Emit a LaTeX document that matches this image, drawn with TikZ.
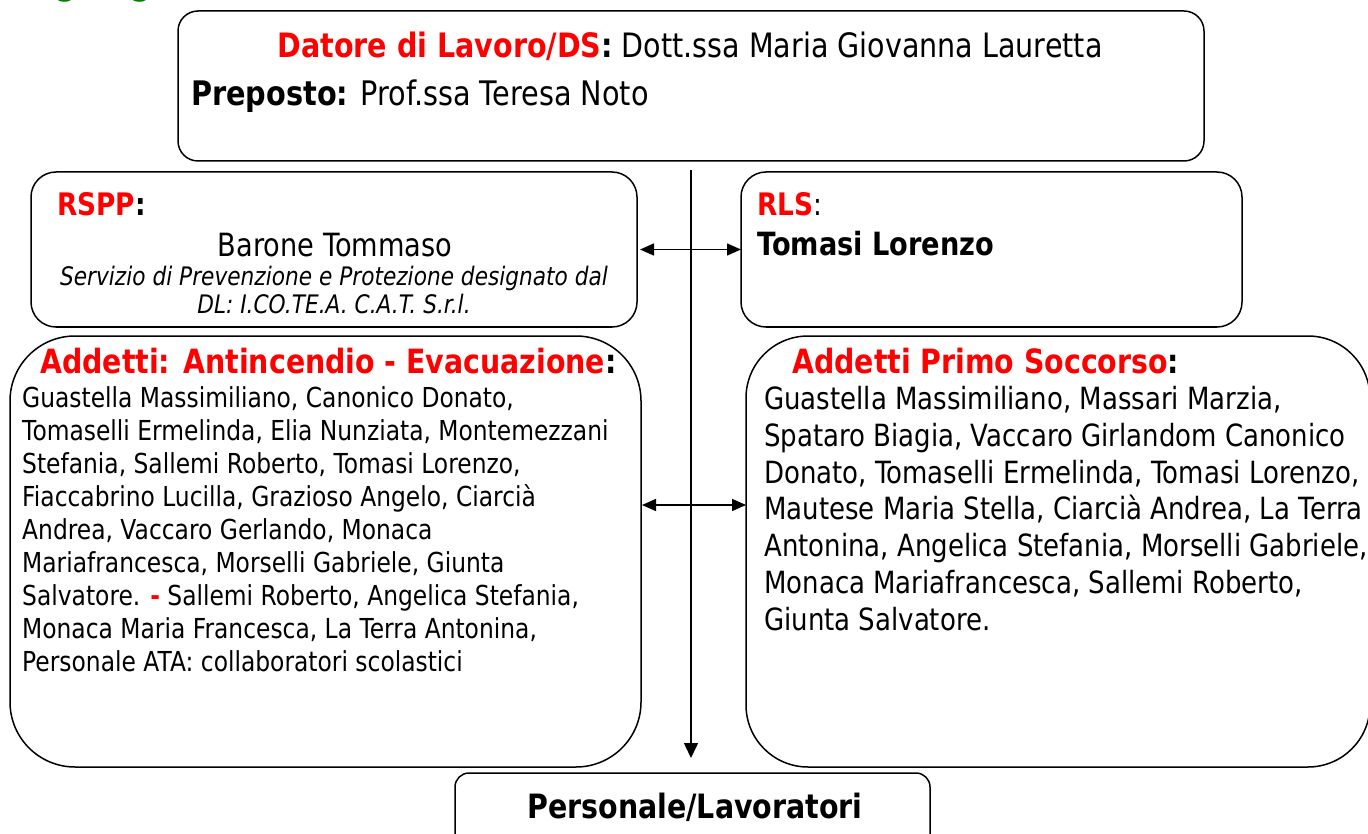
\documentclass[tikz,border=0pt]{standalone}
\usepackage{fontspec}
\setmainfont{DejaVu Sans}[FakeStretch=0.85]
\usetikzlibrary{arrows.meta}
\definecolor{rosso}{RGB}{255,0,0}
\definecolor{verde}{RGB}{0,128,0}
\begin{document}
\begin{tikzpicture}[x=1pt,y=-1pt,
  box/.style={draw,line width=1.5pt,inner sep=0pt,outer sep=0pt},
  link/.style={line width=1.5pt,{Triangle[length=14pt,width=12pt]}-{Triangle[length=14pt,width=12pt]}},
  testo/.style={inner sep=0pt,anchor=base west,align=left}]
\useasboundingbox (0,0) rectangle (1368,834);
%titolo (tagliato)
\node[testo,text=verde,font=\fontsize{36}{40}\selectfont\bfseries] (titolo) at (14,-5) {Organigramma};
%riquadri
\node[box,rounded corners=20pt,minimum width=1026pt,minimum height=150pt] (datore) at (691,86) {};
\node[box,rounded corners=25pt,minimum width=606pt,minimum height=155pt] (rspp) at (334,249.5) {};
\node[box,rounded corners=25pt,minimum width=501pt,minimum height=155pt] (rls) at (991.5,249.5) {};
\node[box,rounded corners=65pt,minimum width=631pt,minimum height=431pt] (antincendio) at (325.5,551.5) {};
\node[box,rounded corners=62pt,minimum width=624pt,minimum height=431pt] (soccorso) at (1058,551.5) {};
\node[box,rounded corners=14pt,minimum width=475pt,minimum height=80pt] (lavoratori) at (692.5,813) {};
%DS e preposto
\node[inner sep=0pt,anchor=base,font=\fontsize{33.6}{38}\selectfont] (ds) at (690,58)
  {{\bfseries\color{rosso}Datore di Lavoro/DS}\textbf{:} Dott.ssa Maria Giovanna Lauretta};
\node[testo,font=\fontsize{33.8}{38}\selectfont] (preposto) at (191,106)
  {\textbf{Preposto:} Prof.ssa Teresa Noto};
%RSPP
\node[testo,font=\fontsize{31}{36}\selectfont\bfseries] (rspptit) at (57,216) {{\color{rosso}RSPP}:};
\node[inner sep=0pt,anchor=base,font=\fontsize{32}{36}\selectfont] (barone) at (335,257) {Barone Tommaso};
%(base = ultima riga)
\node[inner sep=0pt,anchor=base,align=center,font=\fontsize{25.5}{28}\selectfont\itshape] (servizio) at (334,313)
  {Servizio di Prevenzione e Protezione designato dal\\DL: I.CO.TE.A. C.A.T. S.r.l.};
%RLS
\node[testo,font=\fontsize{31}{36}\selectfont] (rlstit) at (757,216) {{\bfseries\color{rosso}RLS}:};
\node[testo,font=\fontsize{32}{36}\selectfont\bfseries] (tomasi) at (757,256) {Tomasi Lorenzo};
%antincendio
\node[testo,font=\fontsize{33.4}{38}\selectfont\bfseries] (antitit) at (40,373)
  {{\color{rosso}Addetti: Antincendio - Evacuazione}:};
\node[testo,font=\fontsize{27.5}{33}\selectfont] (antinomi) at (22,671)
  {Guastella Massimiliano, Canonico Donato,\\
   Tomaselli Ermelinda, Elia Nunziata, Montemezzani\\
   Stefania, Sallemi Roberto, Tomasi Lorenzo,\\
   Fiaccabrino Lucilla, Grazioso Angelo, Ciarcià\\
   Andrea, Vaccaro Gerlando, Monaca\\
   Mariafrancesca, Morselli Gabriele, Giunta\\
   Salvatore. {\color{rosso}\bfseries -} Sallemi Roberto, Angelica Stefania,\\
   Monaca Maria Francesca, La Terra Antonina,\\
   Personale ATA: collaboratori scolastici};
%primo soccorso
\node[testo,font=\fontsize{33.4}{38}\selectfont\bfseries] (soctit) at (792,373)
  {{\color{rosso}Addetti Primo Soccorso}:};
\node[testo,font=\fontsize{30.6}{36.7}\selectfont] (socnomi) at (764,630)
  {Guastella Massimiliano, Massari Marzia,\\
   Spataro Biagia, Vaccaro Girlandom Canonico\\
   Donato, Tomaselli Ermelinda, Tomasi Lorenzo,\\
   Mautese Maria Stella, Ciarcià Andrea, La Terra\\
   Antonina, Angelica Stefania, Morselli Gabriele,\\
   Monaca Mariafrancesca, Sallemi Roberto,\\
   Giunta Salvatore.};
%lavoratori
\node[inner sep=0pt,anchor=base,font=\fontsize{33.5}{36}\selectfont\bfseries] (lavtit) at (695,818) {Personale/Lavoratori};
%frecce
\draw[line width=1.5pt,-{Triangle[length=15pt,width=14pt]},shorten <=9pt,shorten >=15pt]
  (datore.south) -- (datore.south |- lavoratori.north);
\draw[link,shorten <=3pt] (rspp.east) -- (rls.west);
\draw[link,shorten <=1pt] ([yshift=46.5pt]antincendio.east) -- ([yshift=46.5pt]soccorso.west);
\end{tikzpicture}
\end{document}
